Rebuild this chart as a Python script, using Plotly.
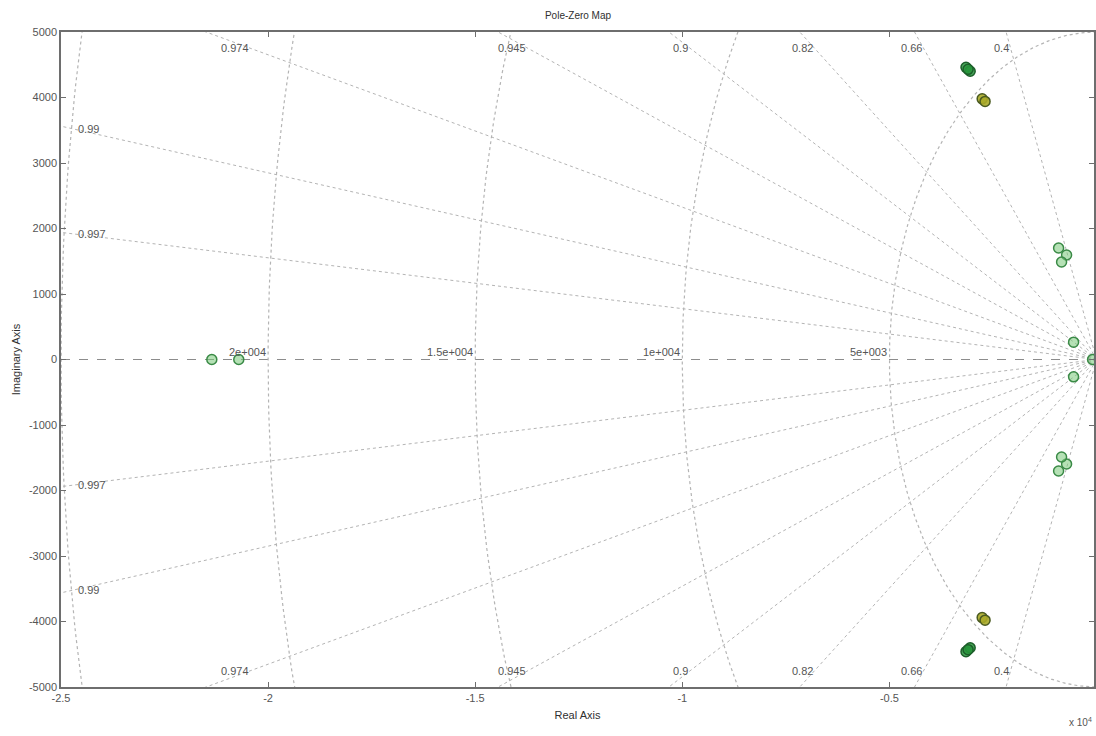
import numpy as np
import plotly.graph_objects as go

# ---- data ----
zeta_vals = [0.4, 0.66, 0.82, 0.9, 0.945, 0.974, 0.99, 0.997]
zeta_labels = ["0.4", "0.66", "0.82", "0.9", "0.945", "0.974", "0.99", "0.997"]
wn_vals = [5000, 10000, 15000, 20000, 25000]
wn_labels = ["5e+003", "1e+004", "1.5e+004", "2e+004", ""]

x_tickvals = [-25000, -20000, -15000, -10000, -5000, 0]
x_ticktext = ["-2.5", "-2", "-1.5", "-1", "-0.5", "0"]
y_tickvals = [-5000, -4000, -3000, -2000, -1000, 0, 1000, 2000, 3000, 4000, 5000]
y_ticktext = [str(v) for v in y_tickvals]

# system A (dark green)
a_real = [-3150, -3050, -3100, -3150, -3050, -3100]
a_imag = [4460, 4400, 4430, -4460, -4400, -4430]
# system B (olive / yellow)
b_real = [-2760, -2690, -2760, -2690]
b_imag = [3980, 3940, -3940, -3980]
# system C (light green)
c_real = [-915, -722, -843, -915, -722, -843, -553, -553, -95, -21359, -20708]
c_imag = [1702, 1595, 1489, -1702, -1595, -1489, 265, -265, 0, 0, 0]

XMIN, XMAX = -25000, -60
YMIN, YMAX = -5000, 5000

fig = go.Figure()
grid_col = "#b4b4b4"
txt_col = "#555555"
FONT = "Liberation Sans Narrow, Liberation Sans, Arial, sans-serif"

# real axis line
fig.add_trace(go.Scatter(x=[XMIN, 0], y=[0, 0], mode="lines",
                         line=dict(color="#8c8c8c", width=1, dash="dash"),
                         hoverinfo="skip", showlegend=False))

# damping ratio lines
R = 40000
for z in zeta_vals:
    s = np.sqrt(1 - z * z)
    fig.add_trace(go.Scatter(x=[0, -z * R, None, 0, -z * R], y=[0, s * R, None, 0, -s * R],
                             mode="lines", line=dict(color=grid_col, width=1, dash="dot"),
                             hoverinfo="skip", showlegend=False))

# natural frequency arcs
th = np.linspace(np.pi / 2, 3 * np.pi / 2, 400)
for w in wn_vals:
    fig.add_trace(go.Scatter(x=w * np.cos(th), y=w * np.sin(th), mode="lines",
                             line=dict(color=grid_col, width=1.2, dash="dot"),
                             hoverinfo="skip", showlegend=False))

# pole/zero markers
def add_pz(xr, yi, fill, edge):
    fig.add_trace(go.Scatter(x=xr, y=yi, mode="markers",
                             marker=dict(symbol="circle", size=10, color=fill,
                                         line=dict(color=edge, width=1.5)),
                             showlegend=False))

add_pz(c_real, c_imag, "rgba(120,200,120,0.55)", "#3a8a46")
add_pz(a_real, a_imag, "rgba(40,150,60,0.85)", "#1c5e2a")
add_pz(b_real, b_imag, "rgba(170,170,40,0.9)", "#4a5a20")

ann = []
# zeta labels
for z, lab in zip(zeta_vals, zeta_labels):
    s = np.sqrt(1 - z * z)
    t = s / z
    if 5000 / t > 24000:  # line leaves through left side
        xl = -24650
        for sign in (1, -1):
            ann.append(dict(x=xl, y=-sign * xl * t, text=lab, showarrow=False, xanchor="left",
                            yanchor="middle", font=dict(size=11, color=txt_col, family=FONT)))
    else:
        yl = 4750
        for sign in (1, -1):
            ann.append(dict(x=-yl / t, y=sign * yl, text=lab, showarrow=False, xanchor="right",
                            yanchor="middle", font=dict(size=11, color=txt_col, family=FONT)))
# wn labels
for w, lab in zip(wn_vals, wn_labels):
    if lab:
        ann.append(dict(x=-w, y=0, text=lab, showarrow=False, xanchor="right",
                        yanchor="bottom", font=dict(size=11, color=txt_col, family=FONT)))

ann.append(dict(x=1.0, y=-(730 - 687) / 655, xref="paper", yref="paper",
                text="x 10<sup>4</sup>", showarrow=False, xanchor="right", yanchor="bottom",
                font=dict(size=10, color=txt_col, family=FONT)))

fig.update_layout(
    width=1096, height=736,
    margin=dict(l=61, r=0, t=32, b=49),
    paper_bgcolor="white", plot_bgcolor="white",
    title=dict(text="Pole-Zero Map", x=578 / 1096, xanchor="center", y=1 - 15 / 736,
               yanchor="middle", font=dict(size=10, color="#303030", family=FONT)),
    annotations=ann,
    font=dict(family=FONT, size=11, color=txt_col),
)
fig.update_xaxes(range=[XMIN, XMAX], tickvals=x_tickvals, ticktext=x_ticktext,
                 showgrid=False, zeroline=False, showline=True, linecolor="#6e6e6e",
                 linewidth=1.5, mirror="ticks", ticks="inside", ticklen=5,
                 tickcolor="#6e6e6e", tickfont=dict(size=11, color=txt_col, family=FONT),
                 title=dict(text="Real Axis", font=dict(size=11, color="#303030", family=FONT),
                            standoff=8))
fig.update_yaxes(range=[YMIN, YMAX], tickvals=y_tickvals, ticktext=y_ticktext,
                 showgrid=False, zeroline=False, showline=True, linecolor="#6e6e6e",
                 linewidth=1.5, mirror="ticks", ticks="inside", ticklen=5,
                 tickcolor="#6e6e6e", tickfont=dict(size=11, color=txt_col, family=FONT),
                 title=dict(text="Imaginary Axis", font=dict(size=11, color="#303030", family=FONT),
                            standoff=6))

fig.write_html("out.html")
